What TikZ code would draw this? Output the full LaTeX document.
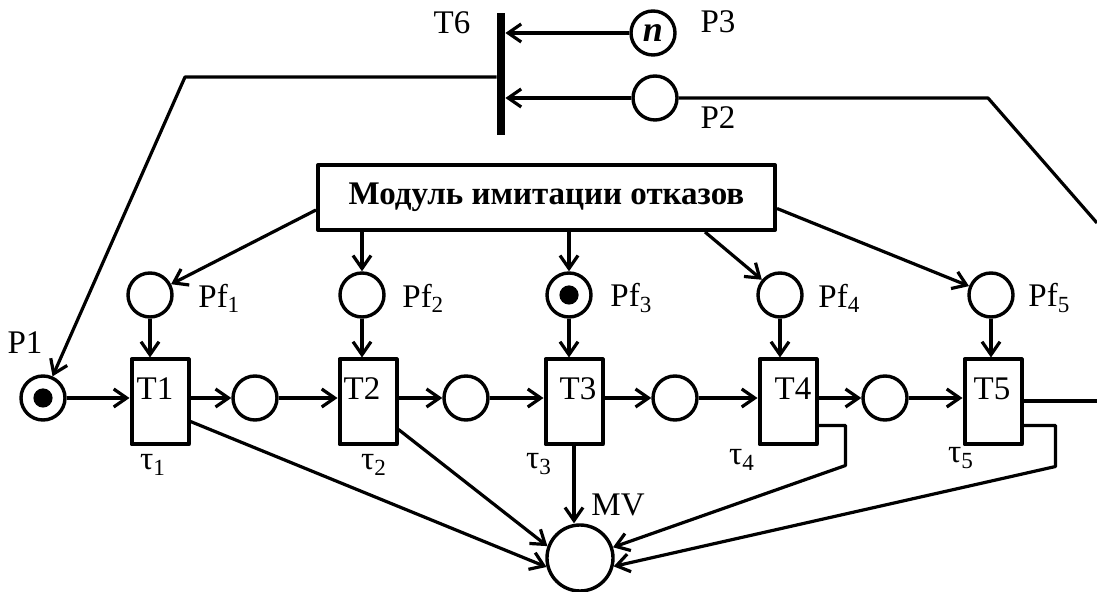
\documentclass[tikz,border=0pt]{standalone}
\usepackage{fontspec}
\setmainfont{Liberation Serif}
\usetikzlibrary{arrows.meta,calc}
\tikzset{
  place/.style={circle,draw,line width=1.7pt,minimum size=22pt,inner sep=0pt},
  marked/.style={place,path picture={\fill (path picture bounding box.center) circle (4.8pt);}},
  trans/.style={draw,line width=2pt,minimum width=28.5pt,minimum height=42.5pt,inner sep=0pt},
  bar/.style={fill,minimum width=4pt,minimum height=61pt,inner sep=0pt},
  lbl/.style={font=\fontsize{16.5}{18}\selectfont,inner sep=0pt},
  arc/.style={-{Straight Barb[length=6.5pt,width=9pt,line width=1.6pt]},line width=1.6pt},
  wire/.style={line width=1.6pt}
}
\begin{document}
\begin{tikzpicture}[x=0.5pt,y=-0.5pt,line join=round]
\useasboundingbox (0,0) rectangle (1097,592);
% T6 with P3, P2
\node[bar] (t6) at (501,74) {};
\node[lbl] (t6l) at (452,23) {T6};
\node[place] (p3) at (653,33) {\fontsize{18}{18}\selectfont\textbf{\textit{n}}};
\node[lbl] (p3l) at (718,22) {P3};
\node[place] (p2) at (655,98) {};
\node[lbl] (p2l) at (718,118) {P2};
\coordinate (k1) at (185,77);
\coordinate (k2) at (988,98);
\coordinate (k3) at (1097,223);
\draw[arc] (p3) -- (p3 -| t6.east);
\draw[arc] (p2) -- (p2 -| t6.east);
\draw[wire] (p2) -- (k2) -- (k3);

% failure module
\node[draw,line width=2pt,minimum width=228.5pt,minimum height=32.5pt,font=\bfseries\fontsize{16.5}{18}\selectfont] (mod) at (546.5,197.5) {Модуль имитации отказов\hspace{16pt}};

% main chain
\node[marked] (p1) at (43,398) {};
\node[lbl] (p1l) at (25,343) {P1};
\foreach \i/\x/\tx in {1/160/155,2/368/362,3/574/578,4/788/793,5/993/992}{
  \node[trans] (t\i) at (\x,402) {};
  \node[lbl] (t\i l) at (\tx,389) {T\i};
}
\foreach \i/\x in {1/255,2/466,3/675,4/885}
  \node[place] (c\i) at (\x,398) {};
\foreach \i/\x/\s/\lx in {1/150/place/198,2/362/place/402,3/569/marked/610,4/780/place/818,5/991/place/1028}{
  \node[\s] (pf\i) at (\x,295) {};
  \node[lbl,anchor=west] (pf\i l) at (\lx,298) {Pf\textsubscript{\i}};
  \draw[arc] (pf\i) -- (pf\i |- t\i.north);
}
\foreach \i/\x/\y in {1/153/465,2/374/465,3/539/464,4/742/460,5/961/458}
  \node[lbl] (tau\i) at (\x,\y) {τ\textsubscript{\i}};

\draw[arc] (p1) -- (p1 -| t1.west);
\foreach \a/\b in {1/2,2/3,3/4,4/5}{
  \draw[arc] (c\a -| t\a.east) -- (c\a);
  \draw[arc] (c\a) -- (c\a -| t\b.west);
}
\coordinate (k4) at (1097,401);
\draw[wire] (t5.east |- k4) -- (k4);
\draw[arc] (t6.west |- k1) -- (k1) -- (p1);

% module to fault places
\draw[arc] ($(mod.south west)+(0,-22)$) -- (pf1);
\draw[arc] (mod.south -| pf2) -- (pf2);
\draw[arc] (mod.south -| pf3) -- (pf3);
\draw[arc] ($(mod.south east)+(-72,0)$) -- (pf4);
\draw[arc] ($(mod.east)+(0,11)$) -- (pf5);

% MV
\node[place,minimum size=33pt] (mv) at (580,558) {};
\node[lbl] (mvl) at (618,505) {MV};
\draw[arc] ([yshift=12.5pt]t1.south east) -- (mv.195);
\draw[arc] ([yshift=8.5pt]t2.south east) -- (mv.160);
\draw[arc] (t3.south) -- (t3.south |- mv.north);
\draw[arc] ([yshift=10.5pt]t4.south east) -- ++(27,0) -- ++(0,40) -- (mv.18);
\draw[arc] ([yshift=10.5pt]t5.south east) -- ++(32,0) -- ++(0,41) -- (mv.-14);
\end{tikzpicture}
\end{document}
